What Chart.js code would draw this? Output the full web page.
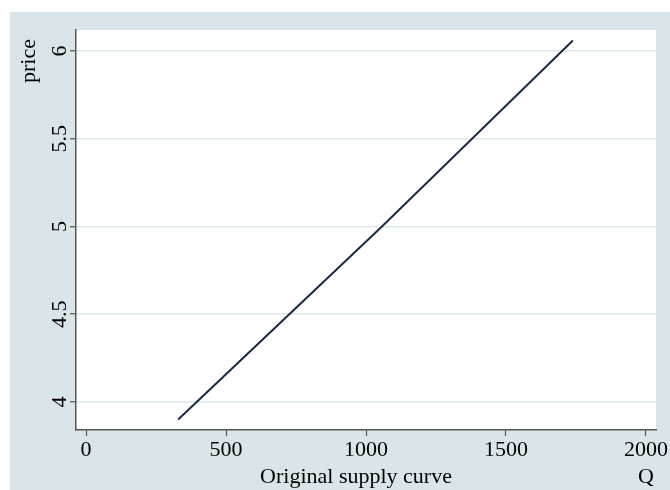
<!DOCTYPE html>
<html>
<head>
<meta charset="utf-8">
<script src="https://cdn.jsdelivr.net/npm/chart.js@4.4.1/dist/chart.umd.min.js"></script>
<style>
  html, body { margin: 0; padding: 0; background: #ffffff; }
  #wrap { width: 670px; height: 490px; position: relative; }
</style>
</head>
<body>
<div id="wrap"><canvas id="c" width="670" height="490"></canvas></div>
<script>
// Supply curve: quantity (Q) against price
const quantity = [329, 1057, 1739];
const price = [3.90, 5.00, 6.06];
const xTicks = [0, 500, 1000, 1500, 2000];
const yTicks = [4, 4.5, 5, 5.5, 6];
const xTitle = 'Original supply curve';
const xTitleRight = 'Q';
const yTitle = 'price';

const FONT = '"Liberation Serif", "Times New Roman", serif';
const FONT_SIZE = 22;
const BG = '#dae5e9';
const GRID = '#dde8ec';
const AXIS = '#555555';
const LINE = '#1b2a47';

const points = quantity.map((q, i) => ({ x: q, y: price[i] }));

// Background panels, rotated y labels and axis titles
const decor = {
  id: 'decor',
  beforeDraw(chart) {
    const ctx = chart.ctx;
    const a = chart.chartArea;
    ctx.save();
    ctx.fillStyle = '#ffffff';
    ctx.fillRect(0, 0, chart.width, chart.height);
    ctx.fillStyle = BG;
    ctx.fillRect(10, 12, chart.width - 10, chart.height - 12);
    ctx.fillStyle = '#ffffff';
    ctx.fillRect(a.left, a.top, a.right - a.left, a.bottom - a.top);
    ctx.restore();
  },
  afterDraw(chart) {
    const ctx = chart.ctx;
    const ys = chart.scales.y;
    ctx.save();
    ctx.fillStyle = '#000000';
    ctx.font = FONT_SIZE + 'px ' + FONT;
    // y tick labels, reading upward
    yTicks.forEach(v => {
      const py = ys.getPixelForValue(v);
      ctx.save();
      ctx.translate(66, py);
      ctx.rotate(-Math.PI / 2);
      ctx.textAlign = 'center';
      ctx.textBaseline = 'alphabetic';
      ctx.fillText(String(v), 0, 0);
      ctx.restore();
    });
    // y axis title
    ctx.save();
    ctx.translate(35, 61);
    ctx.rotate(-Math.PI / 2);
    ctx.textAlign = 'center';
    ctx.textBaseline = 'alphabetic';
    ctx.fillText(yTitle, 0, 0);
    ctx.restore();
    // x axis titles
    ctx.textAlign = 'center';
    ctx.textBaseline = 'alphabetic';
    ctx.fillText(xTitle, 356, 483);
    ctx.fillText(xTitleRight, chart.scales.x.getPixelForValue(2000), 483);
    ctx.restore();
  }
};

new Chart(document.getElementById('c'), {
  type: 'scatter',
  data: {
    datasets: [{
      data: points,
      showLine: true,
      borderColor: LINE,
      borderWidth: 2,
      pointRadius: 0,
      fill: false,
      tension: 0
    }]
  },
  options: {
    responsive: false,
    animation: false,
    devicePixelRatio: 1,
    layout: { padding: { top: 30, right: 14, left: 0, bottom: 0 } },
    plugins: { legend: { display: false }, tooltip: { enabled: false } },
    scales: {
      x: {
        type: 'linear',
        min: -36,
        max: 2036,
        afterFit(s) { s.height = 60; },
        afterBuildTicks(s) { s.ticks = xTicks.map(v => ({ value: v })); },
        border: { display: true, color: AXIS, width: 1.5 },
        grid: { drawOnChartArea: false, drawTicks: true, tickLength: 6, tickColor: AXIS, tickWidth: 1.2 },
        ticks: {
          color: '#000000',
          font: { family: FONT, size: FONT_SIZE },
          padding: 1,
          maxRotation: 0,
          minRotation: 0,
          callback: v => String(v)
        }
      },
      y: {
        type: 'linear',
        min: 3.84,
        max: 6.12,
        afterFit(s) { s.width = 76; },
        afterBuildTicks(s) { s.ticks = yTicks.map(v => ({ value: v })); },
        border: { display: true, color: AXIS, width: 1.5 },
        grid: { color: GRID, lineWidth: 1.5, drawTicks: true, tickLength: 6, tickColor: AXIS, tickWidth: 1.2 },
        ticks: { display: false }
      }
    }
  },
  plugins: [decor]
});
</script>
</body>
</html>
